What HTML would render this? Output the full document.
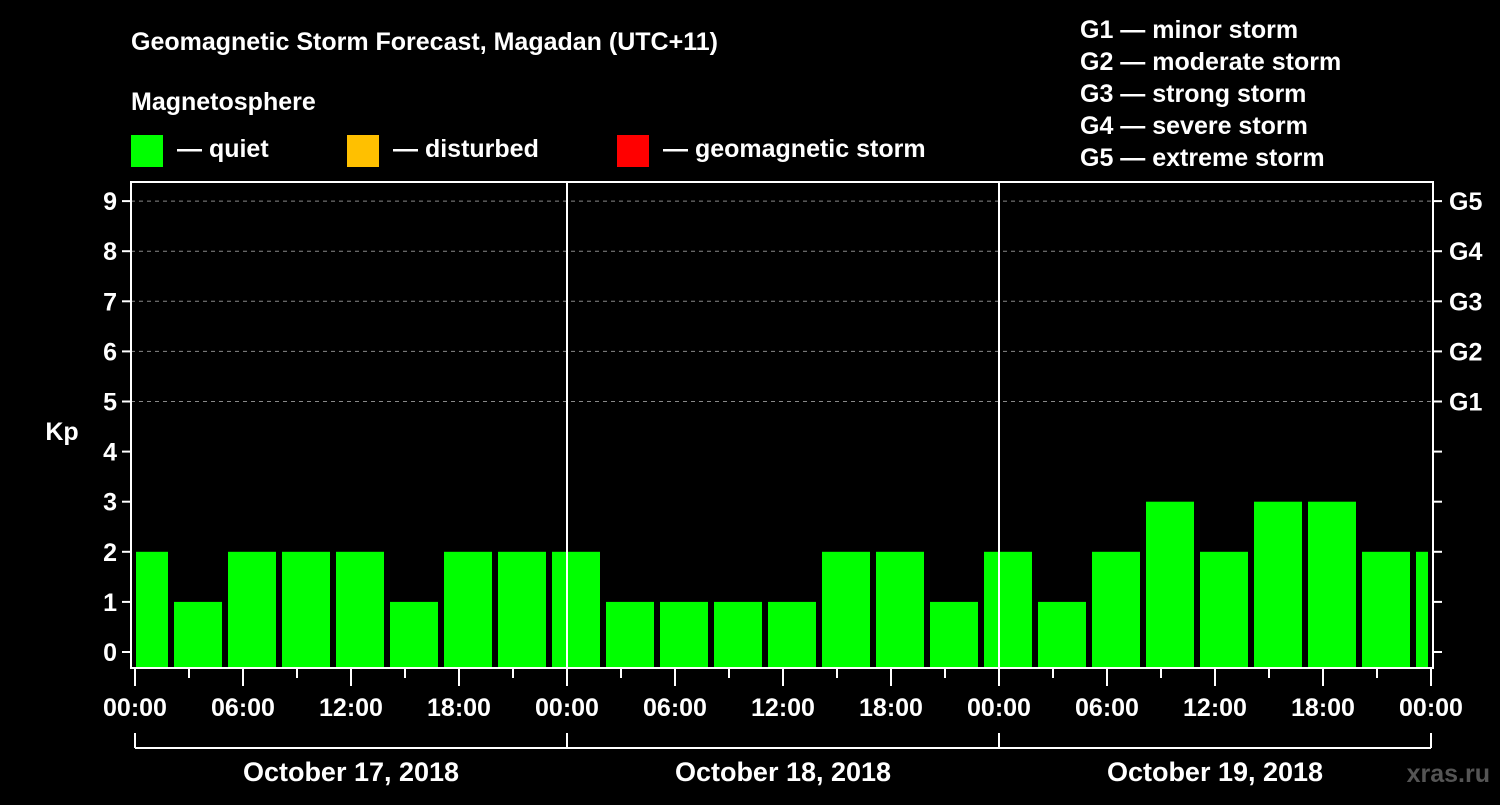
<!DOCTYPE html>
<html><head><meta charset="utf-8"><style>
html,body{margin:0;padding:0;background:#000;}
svg text{font-family:"Liberation Sans",Arial,sans-serif;font-weight:bold;fill:#fff;}
</style></head><body>
<svg id="chart" width="1500" height="800" viewBox="0 0 1500 800" xmlns="http://www.w3.org/2000/svg">
<rect width="1500" height="800" fill="#000"/>
<text x="131" y="50" font-size="25">Geomagnetic Storm Forecast, Magadan (UTC+11)</text>
<text x="131" y="110" font-size="25">Magnetosphere</text>
<g>
<rect x="131" y="135" width="32" height="32" fill="#00ff00"/>
<text x="177" y="157" font-size="25">— quiet</text>
<rect x="347" y="135" width="32" height="32" fill="#ffc000"/>
<text x="393" y="157" font-size="25">— disturbed</text>
<rect x="617" y="135" width="32" height="32" fill="#ff0000"/>
<text x="663" y="157" font-size="25">— geomagnetic storm</text>
</g>
<g font-size="25">
<text x="1080" y="38">G1 — minor storm</text>
<text x="1080" y="70">G2 — moderate storm</text>
<text x="1080" y="102">G3 — strong storm</text>
<text x="1080" y="134">G4 — severe storm</text>
<text x="1080" y="166">G5 — extreme storm</text>
</g>
<text x="62" y="440" font-size="25" text-anchor="middle">Kp</text>
<text x="1490" y="782" font-size="25" text-anchor="end" fill="#555" style="fill:#555">xras.ru</text>
<g id="plot"></g>
</svg>
<script>
const kpValues = [2,1,2,2,2,1,2,2,2,1,1,1,1,2,2,1,2,1,2,3,2,3,3,2,2];
const yTicks = [0,1,2,3,4,5,6,7,8,9];
const gLabels = ["G1","G2","G3","G4","G5"];
const gLevels = [5,6,7,8,9];
const xTickLabels = ["00:00","06:00","12:00","18:00","00:00","06:00","12:00","18:00","00:00","06:00","12:00","18:00","00:00"];
const dayLabels = ["October 17, 2018","October 18, 2018","October 19, 2018"];

const NS="http://www.w3.org/2000/svg";
const g=document.getElementById('plot');
const X0=135, HOUR=18, Y0=652, UNIT=50.1;
const L=131, R=1433, T=182, B=668;
const xs=h=>X0+h*HOUR;
const ys=v=>Y0-v*UNIT;
function mk(tag,attrs,parent){const e=document.createElementNS(NS,tag);for(const k in attrs)e.setAttribute(k,attrs[k]);(parent||g).appendChild(e);return e;}

// grid
gLevels.forEach(v=>{
  const e=mk('line',{x1:L,x2:R,y1:ys(v),y2:ys(v),stroke:'#888','stroke-width':1,'stroke-dasharray':'4,4'});
  
  
});
// bars: slot i starts at hour 2+3*(i-1)
kpValues.forEach((v,i)=>{
  const h0=-1+3*i, h1=h0+3;
  let x1=xs(h0)+3, x2=xs(h1)-3;
  x1=Math.max(x1,X0+1); x2=Math.min(x2,xs(72)-3);
  if(x2<=x1) return;
  const e=mk('rect',{x:x1,y:ys(v),width:x2-x1,height:B-ys(v),fill:'#00ff00'});
  
  
});
// day separators
[1,2].forEach(d=>{
  const e=mk('line',{x1:xs(24*d),x2:xs(24*d),y1:T,y2:B,stroke:'#fff','stroke-width':2});
  
  
});
// frame
const fr=mk('rect',{x:L,y:T,width:R-L,height:B-T,fill:'none',stroke:'#fff','stroke-width':2});


// y ticks
yTicks.forEach(v=>{
  mk('line',{x1:L-9,x2:L,y1:ys(v),y2:ys(v),stroke:'#fff','stroke-width':2});
  mk('line',{x1:R,x2:R+9,y1:ys(v),y2:ys(v),stroke:'#fff','stroke-width':2});
  const t=mk('text',{x:L-14,y:ys(v)+9,'font-size':25,'text-anchor':'end'});
  t.textContent=v;
  
  
});
gLabels.forEach((s,i)=>{
  const t=mk('text',{x:R+16,y:ys(gLevels[i])+9,'font-size':25});
  t.textContent=s;
  
  
});
// x ticks
for(let h=0;h<=72;h+=3){
  const major=h%6===0;
  mk('line',{x1:xs(h),x2:xs(h),y1:B,y2:B+(major?18:10),stroke:'#fff','stroke-width':2});
}
xTickLabels.forEach((s,i)=>{
  const t=mk('text',{x:xs(i*6),y:716,'font-size':25,'text-anchor':'middle'});
  t.textContent=s;
  
  
});
// day bracket
mk('line',{x1:xs(0),x2:xs(72),y1:748,y2:748,stroke:'#fff','stroke-width':2});
for(let d=0;d<=3;d++) mk('line',{x1:xs(24*d),x2:xs(24*d),y1:733,y2:748,stroke:'#fff','stroke-width':2});
dayLabels.forEach((s,i)=>{
  const t=mk('text',{x:xs(24*i+12),y:781,'font-size':27,'text-anchor':'middle'});
  t.textContent=s;
  
  
});
</script>
</body></html>
